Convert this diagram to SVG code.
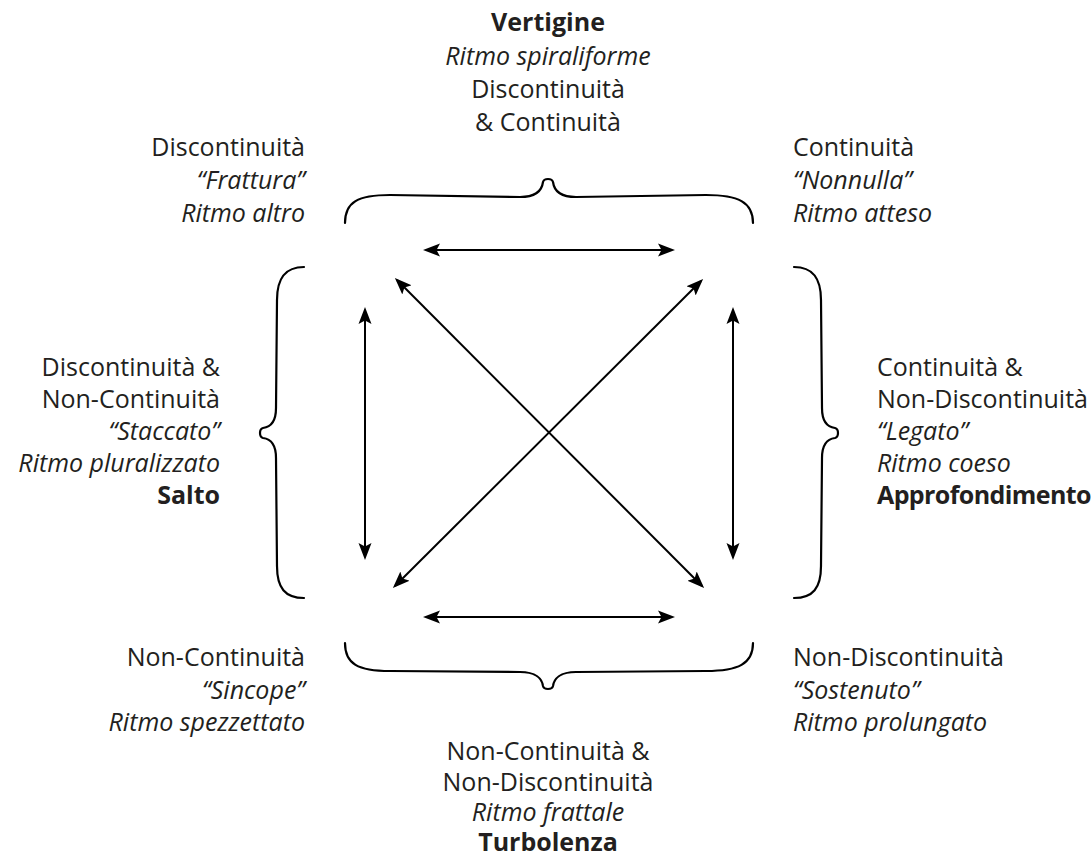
<svg xmlns="http://www.w3.org/2000/svg" width="1092" height="856" viewBox="0 0 1092 856">
<style>
  text { font-family: "Open Sans", "Liberation Sans", sans-serif; font-size: 25px; fill: #231f20; font-variant-ligatures: none; }
  .i { font-style: italic; }
  .b { font-weight: bold; }
  .r { text-anchor: end; }
  .m { text-anchor: middle; }
  .brace { fill: none; stroke: #000; stroke-width: 2.2; stroke-linecap: round; }
  .arr { fill: none; stroke: #000; stroke-width: 2; marker-start: url(#ah); marker-end: url(#ah); }
</style>
<defs>
  <marker id="ah" markerUnits="userSpaceOnUse" markerWidth="18" markerHeight="14" viewBox="0 0 18 14" refX="14" refY="7" orient="auto-start-reverse">
    <path d="M0,0.5 L17,7 L0,13.5 L3.5,7 z" fill="#000"/>
  </marker>
</defs>
<rect width="1092" height="856" fill="#fff"/>

<g id="braces">
  <path class="brace" d="M345,223 C345,202 358,195 390,195 L520,197 C536,197 542,190 543,182 C544,178 552,178 553,182 C554,190 560,197 576,197 L706,195 C738,195 753,202 753,223"/>
  <path class="brace" d="M345,643 C345,664 358,671 390,671 L520,672 C536,672 542,679 543,686 C544,690 552,690 553,686 C554,679 560,672 576,672 L706,671 C738,671 753,664 753,643"/>
  <path class="brace" d="M304,267 C285,267 277,278 277,300 L276,408 C276,422 271,427 263,428 C259,429 259,437 263,438 C271,439 276,444 276,458 L277,566 C277,588 285,598 304,598"/>
  <path class="brace" d="M794,267 C813,267 821,278 821,300 L822,408 C822,422 827,427 835,428 C839,429 839,437 835,438 C827,439 822,444 822,458 L821,566 C821,588 813,598 794,598"/>
</g>

<g id="connectors">
  <line class="arr" x1="426" y1="250" x2="672" y2="250"/>
  <line class="arr" x1="426" y1="617" x2="672" y2="617"/>
  <line class="arr" x1="365" y1="310" x2="365" y2="557"/>
  <line class="arr" x1="733" y1="310" x2="733" y2="557"/>
  <line class="arr" x1="397" y1="280" x2="702" y2="586"/>
  <line class="arr" x1="701" y1="281" x2="395" y2="586"/>
</g>

<g id="n-top">
  <text class="m b" x="548" y="31">Vertigine</text>
  <text class="m i" x="548" y="65">Ritmo spiraliforme</text>
  <text class="m" x="548" y="98">Discontinuità</text>
  <text class="m" x="548" y="131">&amp; Continuità</text>
</g>
<g id="n-topleft">
  <text class="r" x="305" y="156">Discontinuità</text>
  <text class="r i" x="305" y="189">“Frattura”</text>
  <text class="r i" x="305" y="222">Ritmo altro</text>
</g>
<g id="n-topright">
  <text x="793" y="156">Continuità</text>
  <text class="i" x="793" y="189">“Nonnulla”</text>
  <text class="i" x="793" y="222">Ritmo atteso</text>
</g>
<g id="n-left">
  <text class="r" x="220" y="376">Discontinuità &amp;</text>
  <text class="r" x="220" y="408">Non-Continuità</text>
  <text class="r i" x="220" y="440">“Staccato”</text>
  <text class="r i" x="220" y="472">Ritmo pluralizzato</text>
  <text class="r b" x="220" y="504">Salto</text>
</g>
<g id="n-right">
  <text x="877" y="376">Continuità &amp;</text>
  <text x="877" y="408">Non-Discontinuità</text>
  <text class="i" x="877" y="440">“Legato”</text>
  <text class="i" x="877" y="472">Ritmo coeso</text>
  <text class="b" x="877" y="504" letter-spacing="-0.6">Approfondimento</text>
</g>
<g id="n-bottomleft">
  <text class="r" x="305" y="666">Non-Continuità</text>
  <text class="r i" x="305" y="699">“Sincope”</text>
  <text class="r i" x="305" y="731">Ritmo spezzettato</text>
</g>
<g id="n-bottomright">
  <text x="793" y="666">Non-Discontinuità</text>
  <text class="i" x="793" y="699">“Sostenuto”</text>
  <text class="i" x="793" y="731">Ritmo prolungato</text>
</g>
<g id="n-bottom">
  <text class="m" x="548" y="760">Non-Continuità &amp;</text>
  <text class="m" x="548" y="791">Non-Discontinuità</text>
  <text class="m i" x="548" y="821">Ritmo frattale</text>
  <text class="m b" x="548" y="851">Turbolenza</text>
</g>
</svg>
